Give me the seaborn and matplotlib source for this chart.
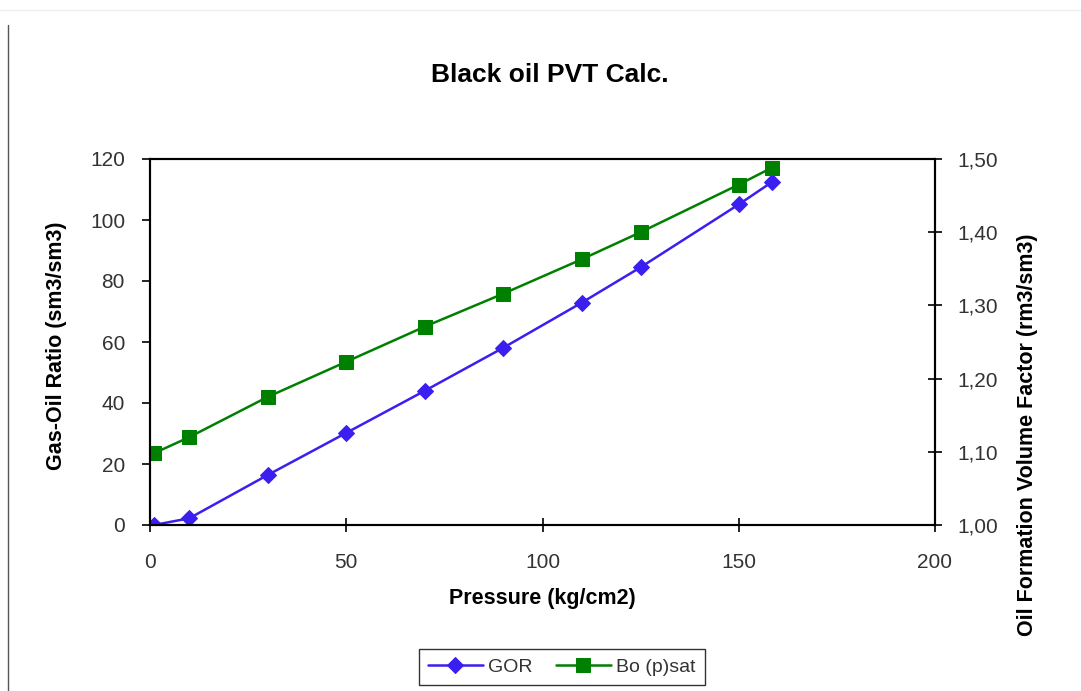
import numpy as np
import pandas as pd
from matplotlib import pyplot as plt
from matplotlib.lines import Line2D
from matplotlib.ticker import FuncFormatter, MultipleLocator
import seaborn as sns

pressure = [1, 10, 30, 50, 70, 90, 110, 125, 150, 158.4]
gor = [0, 2.2, 16.4, 30.2, 44.0, 58.1, 72.9, 84.5, 105.1, 112.4]
bo = [1.098, 1.120, 1.175, 1.223, 1.271, 1.316, 1.363, 1.400, 1.465, 1.488]

df = pd.DataFrame({"Pressure": pressure, "GOR": gor, "Bo": bo})

sns.set_style("ticks")
plt.rcParams['font.family'] = ['Liberation Sans', 'DejaVu Sans']
plt.rcParams['text.color'] = 'black'
plt.rcParams['axes.labelcolor'] = 'black'

fig = plt.figure(figsize=(10.81, 6.91), dpi=100)
ax = fig.add_axes([150/1081, 1-525/691, 785/1081, 366/691])
ax2 = ax.twinx()

blue = '#3a1ff0'
green = '#008000'

sns.lineplot(data=df, x="Pressure", y="GOR", ax=ax, color=blue, marker='D',
             markersize=8.5, markeredgecolor=blue, linewidth=1.8, label='GOR', legend=False)
sns.lineplot(data=df, x="Pressure", y="Bo", ax=ax2, color=green, marker='s',
             markersize=10.5, markeredgecolor=green, linewidth=1.8, label='Bo (p)sat', legend=False)

ax.set_xlim(0, 200)
ax.set_ylim(0, 120)
ax2.set_ylim(1.0, 1.5)
ax.xaxis.set_major_locator(MultipleLocator(50))
ax.yaxis.set_major_locator(MultipleLocator(20))
ax2.yaxis.set_major_locator(MultipleLocator(0.1))
ax2.yaxis.set_major_formatter(FuncFormatter(lambda v, p: f"{v:.2f}".replace('.', ',')))

for a in (ax, ax2):
    for s in a.spines.values():
        s.set_linewidth(1.5)
        s.set_color('black')
ax.tick_params(axis='y', direction='out', length=6, width=1.2, labelsize=15, pad=12, color='black')
ax.tick_params(axis='x', direction='inout', length=10, width=1.2, labelsize=15, pad=15, color='black')
ax2.tick_params(axis='y', direction='inout', length=10, width=1.2, labelsize=15, pad=11, color='black')
for lbl in ax.get_xticklabels() + ax.get_yticklabels() + ax2.get_yticklabels():
    lbl.set_color('#333333')

ax.set_xlabel('Pressure (kg/cm2)', fontsize=15.5, fontweight='bold', labelpad=12)
ax.set_ylabel('Gas-Oil Ratio (sm3/sm3)', fontsize=15.5, fontweight='bold')
ax.yaxis.set_label_coords(-0.106, 0.49)
ax2.set_ylabel('Oil Formation Volume Factor (rm3/sm3)', fontsize=15.5, fontweight='bold', rotation=90)
ax2.yaxis.set_label_coords(1.104, 0.246)

fig.text(550/1081, 1-75/691, 'Black oil PVT Calc.', ha='center', va='center',
         fontsize=19, fontweight='bold', color='black')

h1, l1 = ax.get_legend_handles_labels()
h2, l2 = ax2.get_legend_handles_labels()
leg = fig.legend(h1 + h2, l1 + l2, loc='center', bbox_to_anchor=(562/1081, 1-667/691),
                 ncol=2, frameon=True, fancybox=False, fontsize=14, handlelength=2.8,
                 columnspacing=1.2, borderpad=0.45, handletextpad=0.3)
leg.get_frame().set_edgecolor('black')
leg.get_frame().set_linewidth(1.0)
for t in leg.get_texts():
    t.set_color('#333333')

# outer frame bits of the screenshot
fig.add_artist(Line2D([8/1081, 8/1081], [0, 1-25/691], transform=fig.transFigure,
                      color='#555555', linewidth=1))
fig.add_artist(Line2D([0, 1], [1-10/691, 1-10/691], transform=fig.transFigure,
                      color='#eeeeee', linewidth=1))

fig.savefig('out.png', dpi=100)
